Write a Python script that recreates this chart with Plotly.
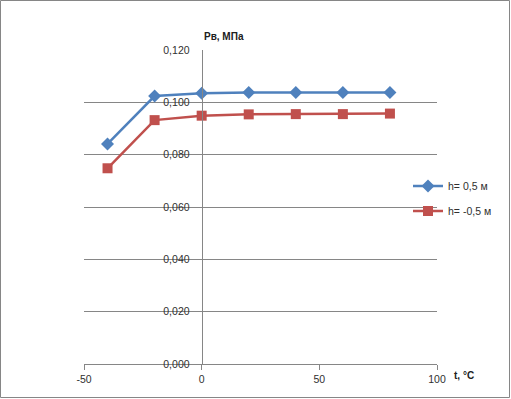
import plotly.graph_objects as go

t_values = [-40, -20, 0, 20, 40, 60, 80]
p_h_pos = [0.0841, 0.1024, 0.1035, 0.1038, 0.1038, 0.1038, 0.1038]
p_h_neg = [0.0748, 0.0932, 0.0949, 0.0954, 0.0955, 0.0955, 0.0957]
series_names = ["h= 0,5 м", "h= -0,5 м"]
y_tick_vals = [0, 0.02, 0.04, 0.06, 0.08, 0.10, 0.12]
y_tick_text = ["0,000", "0,020", "0,040", "0,060", "0,080", "0,100", "0,120"]
x_tick_vals = [-50, 0, 50, 100]

W, H = 511, 399
ML, MR, MT, MB = 84, 74, 50, 35
PW = W - ML - MR
PH = H - MT - MB

def px_x(x):
    return (x - ML) / PW

def px_y(y):
    return (H - MB - y) / PH

font_fam = "Liberation Sans, Arial, sans-serif"

fig = go.Figure()
fig.add_trace(go.Scatter(
    x=t_values, y=p_h_pos, name=series_names[0], mode="lines+markers",
    line=dict(color="#4F81BD", width=2.5),
    marker=dict(symbol="diamond", size=10, color="#4F81BD"),
    legend="legend",
))
fig.add_trace(go.Scatter(
    x=t_values, y=p_h_neg, name=series_names[1], mode="lines+markers",
    line=dict(color="#C0504D", width=2.5),
    marker=dict(symbol="square", size=10, color="#C0504D"),
    legend="legend2",
))

fig.update_layout(
    width=W, height=H,
    margin=dict(l=ML, r=MR, t=MT, b=MB),
    paper_bgcolor="white", plot_bgcolor="white",
    font=dict(family=font_fam, size=10.5, color="#303030"),
    xaxis=dict(
        range=[-50, 100], tickvals=x_tick_vals, ticktext=[str(v) for v in x_tick_vals],
        showgrid=False, zeroline=False, showline=True, linecolor="#868686", linewidth=1,
        ticks="outside", ticklen=5, tickcolor="#868686", domain=[0, 1],
    ),
    yaxis=dict(
        range=[0, 0.12], tickvals=y_tick_vals, ticktext=y_tick_text,
        showgrid=True, gridcolor="#868686", gridwidth=1, zeroline=False,
        showline=True, linecolor="#868686", linewidth=1,
        anchor="free", position=1/3, ticks="", ticklabelstandoff=10,
    ),
    legend=dict(x=px_x(408), y=px_y(186), xanchor="left", yanchor="middle",
                bgcolor="rgba(0,0,0,0)", font=dict(size=10.5)),
    legend2=dict(x=px_x(408), y=px_y(211), xanchor="left", yanchor="middle",
                 bgcolor="rgba(0,0,0,0)", font=dict(size=10.5)),
    showlegend=True,
)

fig.add_annotation(text="<b>Pв, МПа</b>", x=0, xref="x", y=px_y(37), yref="paper",
                   xanchor="left", yanchor="middle", showarrow=False, xshift=0,
                   font=dict(size=10, color="#202020"))
fig.add_annotation(text="<b>t, °C</b>", x=px_x(452), xref="paper", y=px_y(375), yref="paper",
                   xanchor="left", yanchor="middle", showarrow=False,
                   font=dict(size=10, color="#202020"))

fig.add_shape(type="rect", xref="paper", yref="paper",
              x0=px_x(0.5), x1=px_x(509.5), y0=px_y(397.5), y1=px_y(0.5),
              line=dict(color="#868686", width=1), layer="below")

fig.write_html("out.html", config={"displayModeBar": False},
               post_script="document.body.style.margin='0';document.body.style.overflow='hidden';")
